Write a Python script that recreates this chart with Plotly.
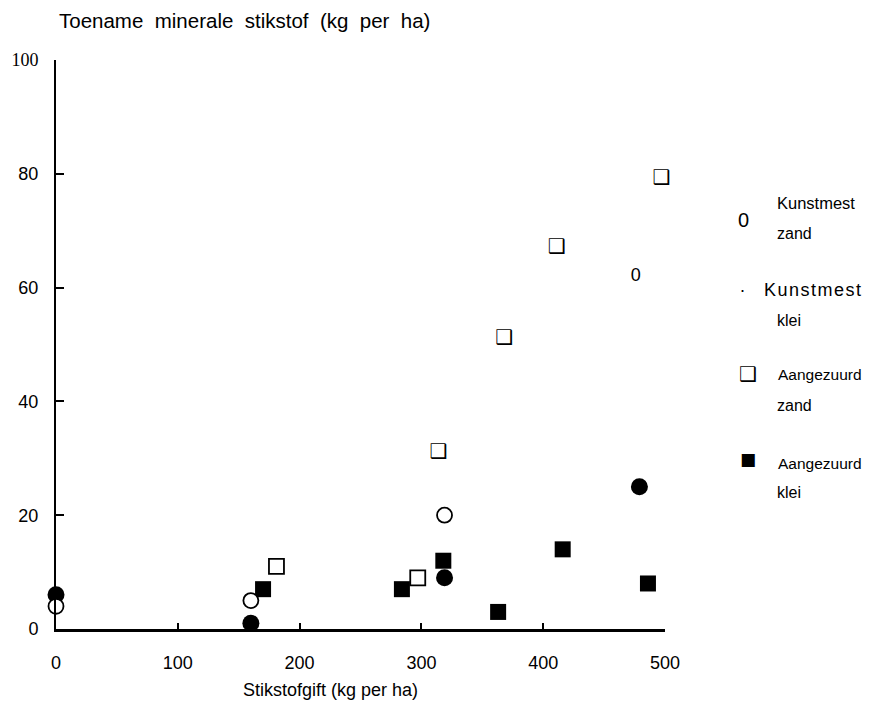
import plotly.graph_objects as go

# ---- data ----
kz_x = [0, 160, 319]            # Kunstmest zand (open circles)
kz_y = [4, 5, 20]
kz_glyph_x = [476]              # Kunstmest zand point printed as "0"
kz_glyph_y = [62]

kk_x = [0, 160, 319, 479]       # Kunstmest klei (filled circles)
kk_y = [6, 1, 9, 25]

az_x = [181, 297]               # Aangezuurd zand (open squares)
az_y = [11, 9]
az_glyph_x = [314, 368, 411, 497]   # Aangezuurd zand printed as shadowed squares
az_glyph_y = [31, 51, 67, 79]

ak_x = [170, 284, 318, 363, 416, 486]   # Aangezuurd klei (filled squares)
ak_y = [7, 7, 12, 3, 14, 8]

x_ticks = [0, 100, 200, 300, 400, 500]
x_ticklabels = ["0", "100", "200", "300", "400", "500"]
y_ticks = [0, 20, 40, 60, 80, 100]
y_ticklabels = ["0", "20", "40", "60", "80",
                "<span style='font-family:Liberation Serif'>100</span>"]

y_title = "Toename\u00a0 minerale\u00a0 stikstof\u00a0 (kg\u00a0 per\u00a0 ha)"
x_title = "Stikstofgift (kg per ha)"

legend_rows = [
    # (symbol, line1, line2)
    ("0", "Kunstmest", "zand"),
    (".", "Kunstmest", "klei"),
    ("\u2751", "Aangezuurd", "zand"),
    ("\u25A0", "Aangezuurd", "klei"),
]

# ---- layout geometry (page pixels; the page body has an 8px margin) ----
OFF = 8
W, H = 870 - OFF, 728 - OFF
PLOT_L, PLOT_R, PLOT_T, PLOT_B = 56, 665, 60, 629      # plot area on the page
L, T = PLOT_L - OFF, PLOT_T - OFF
R, B = W - (PLOT_R - OFF), H - (PLOT_B - OFF)
PW, PH = PLOT_R - PLOT_L, PLOT_B - PLOT_T

def px(xp):
    return (xp - PLOT_L) / PW

def py(yp):
    return (PLOT_B - yp) / PH

FONT = "Liberation Sans, Arial, sans-serif"

fig = go.Figure()

fig.add_trace(go.Scatter(
    x=az_x, y=az_y, mode="markers", name="Aangezuurd zand",
    marker=dict(symbol="square", size=15, color="white",
                line=dict(color="black", width=1.8)),
    cliponaxis=False))
fig.add_trace(go.Scatter(
    x=az_glyph_x, y=az_glyph_y, mode="text", text=["\u2751"] * len(az_glyph_x),
    textfont=dict(family="DejaVu Sans", size=20, color="black"),
    textposition="middle center", cliponaxis=False, showlegend=False))
fig.add_trace(go.Scatter(
    x=ak_x, y=ak_y, mode="markers", name="Aangezuurd klei",
    marker=dict(symbol="square", size=16, color="black",
                line=dict(color="black", width=0)),
    cliponaxis=False))
fig.add_trace(go.Scatter(
    x=kk_x, y=kk_y, mode="markers", name="Kunstmest klei",
    marker=dict(symbol="circle", size=17, color="black",
                line=dict(color="black", width=0)),
    cliponaxis=False))
fig.add_trace(go.Scatter(
    x=kz_x, y=kz_y, mode="markers", name="Kunstmest zand",
    marker=dict(symbol="circle", size=15, color="white",
                line=dict(color="black", width=1.8)),
    cliponaxis=False))
fig.add_trace(go.Scatter(
    x=kz_glyph_x, y=kz_glyph_y, mode="text", text=["0"] * len(kz_glyph_x),
    textfont=dict(family=FONT, size=18, color="black"),
    textposition="middle center", cliponaxis=False, showlegend=False))

annotations = [
    dict(text=y_title, x=px(57), y=py(21), xref="paper", yref="paper",
         xanchor="left", yanchor="middle", showarrow=False,
         font=dict(family=FONT, size=20.5, color="black")),
    dict(text=x_title, x=px(330), y=py(690), xref="paper", yref="paper",
         xanchor="center", yanchor="middle", showarrow=False,
         font=dict(family=FONT, size=18, color="black")),
]

# legend built as text, like the reference
sym_pos = [(743, 220, 20, FONT), (742, 286, 18, FONT),
           (748, 374, 20, "DejaVu Sans"), (748, 459, 17, "DejaVu Sans")]
line1_pos = [(775, 203, 16.5), (762, 290, 18), (776, 374, 15.5), (776, 463, 15.5)]
line2_pos = [(775, 233), (775, 320), (775, 405), (775, 492)]
for (sym, l1, l2), (sx, sy, ss, sf), (ax_, ay_, asz), (bx, by) in zip(
        legend_rows, sym_pos, line1_pos, line2_pos):
    annotations.append(dict(text=sym, x=px(sx), y=py(sy), xref="paper", yref="paper",
                            xanchor="center", yanchor="middle", showarrow=False,
                            font=dict(family=sf, size=ss, color="black")))
    t1 = l1 if asz < 18 else "<span style='letter-spacing:1.5px'>%s</span>" % l1
    annotations.append(dict(text=t1, x=px(ax_), y=py(ay_), xref="paper", yref="paper",
                            xanchor="left", yanchor="middle", showarrow=False,
                            font=dict(family=FONT, size=asz, color="black")))
    annotations.append(dict(text=l2, x=px(bx), y=py(by), xref="paper", yref="paper",
                            xanchor="left", yanchor="middle", showarrow=False,
                            font=dict(family=FONT, size=16, color="black")))

fig.update_layout(
    width=W, height=H,
    margin=dict(l=L, r=R, t=T, b=B, pad=0),
    paper_bgcolor="white", plot_bgcolor="white",
    showlegend=False,
    font=dict(family=FONT, size=18, color="black"),
    annotations=annotations,
    xaxis=dict(range=[0, 500], tickvals=x_ticks, ticktext=x_ticklabels,
               showgrid=False, zeroline=False, showline=True, linecolor="black",
               linewidth=2.5, ticks="inside", ticklen=6, tickwidth=1.5,
               tickcolor="black", ticklabelstandoff=16, automargin=False,
               tickfont=dict(family=FONT, size=18, color="black")),
    yaxis=dict(range=[0, 100], tickvals=y_ticks, ticktext=y_ticklabels,
               showgrid=False, zeroline=False, showline=True, linecolor="black",
               linewidth=2, ticks="inside", ticklen=8, tickwidth=1.5,
               tickcolor="black", ticklabelstandoff=12, automargin=False,
               tickfont=dict(family=FONT, size=18, color="black")),
)

fig.write_html("out.html")
